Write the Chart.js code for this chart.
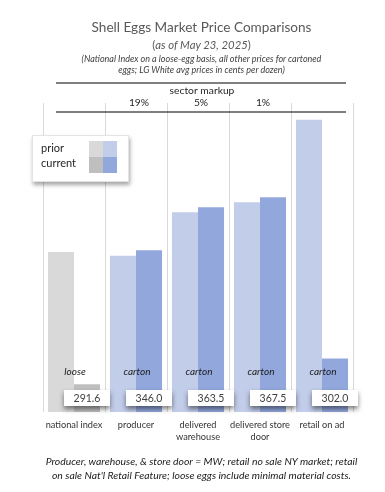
<!DOCTYPE html>
<html>
<head>
<meta charset="utf-8">
<script src="https://cdn.jsdelivr.net/npm/chart.js@4/dist/chart.umd.min.js"></script>
<style>
  body { margin: 0; background: #fff; }
  #wrap { position: relative; width: 385px; height: 492px; overflow: hidden; font-family: Lato, "Open Sans", sans-serif; }
  #c { position: absolute; left: 0; top: 0; }
  .txt { position: absolute; left: 18px; width: 367px; text-align: center; white-space: nowrap; }
  #title { top: 19px; font-size: 13.6px; color: #595959; }
  #sub { top: 38px; font-size: 11.3px; color: #595959; }
  #note { top: 53px; font-size: 9px; color: #404040; font-style: italic; line-height: 11px; }
  #foot { top: 454px; font-size: 10.4px; color: #1a1a1a; font-style: italic; line-height: 14px; }
  #legend { position: absolute; left: 32px; top: 135px; width: 95px; height: 45px; background: #fff;
            border: 1px solid #e4e4e4; box-shadow: 1px 3px 4px rgba(0,0,0,0.35); font-size: 11px; color: #262626; }
  #legend .lab { position: absolute; left: 8px; }
  #legend .sw { position: absolute; width: 14px; height: 16px; }
</style>
</head>
<body>
<div id="wrap">
  <canvas id="c" width="385" height="492"></canvas>
  <div class="txt" id="title">Shell Eggs Market Price Comparisons</div>
  <div class="txt" id="sub">(<i>as of May 23, 2025</i>)</div>
  <div class="txt" id="note">(National Index on a loose-egg basis, all other prices for cartoned<br>eggs; LG White avg prices in cents per dozen)</div>
  <div id="legend">
    <div class="lab" style="top:5px">prior</div>
    <div class="lab" style="top:20px">current</div>
    <div class="sw" style="left:56px;top:5px;background:#d9d9d9"></div>
    <div class="sw" style="left:70px;top:5px;background:#c2cdea"></div>
    <div class="sw" style="left:56px;top:21px;background:#bfbfbf"></div>
    <div class="sw" style="left:70px;top:21px;background:#92a7dc"></div>
  </div>
  <div class="txt" id="foot">Producer, warehouse, &amp; store door = MW; retail no sale NY market; retail<br>on sale Nat'l Retail Feature; loose eggs include minimal material costs.</div>
</div>
<script>
// data (cents per dozen)
const categories = ['national index', 'producer', ['delivered', 'warehouse'], ['delivered store', 'door'], 'retail on ad'];
const priorValues = [345.3, 343.8, 361.4, 365.5, 399.0];
const currentValues = [291.6, 346.0, 363.5, 367.5, 302.0];
const markupLabels = ['', '19%', '5%', '1%', ''];
const packLabels = ['loose', 'carton', 'carton', 'carton', 'carton'];

const priorColors = ['#d9d9d9', '#c2cdea', '#c2cdea', '#c2cdea', '#c2cdea'];
const currentColors = ['#bfbfbf', '#92a7dc', '#92a7dc', '#92a7dc', '#92a7dc'];

// labels, value boxes and the markup band
const extras = {
    id: 'extras',
    afterDatasetsDraw(chart) {
        const ctx = chart.ctx;
        const x = chart.scales.x;
        const cur = chart.getDatasetMeta(1).data;
        ctx.save();

        // markup band
        ctx.strokeStyle = '#000';
        ctx.lineWidth = 1.2;
        ctx.beginPath();
        ctx.moveTo(56, 83); ctx.lineTo(346, 83);
        ctx.moveTo(56, 112); ctx.lineTo(346, 112);
        ctx.stroke();
        ctx.fillStyle = '#262626';
        ctx.textAlign = 'center';
        ctx.textBaseline = 'middle';
        ctx.font = '10.3px Lato';
        ctx.fillText('sector markup', 202, 91);
        markupLabels.forEach((m, i) => {
            if (m) ctx.fillText(m, x.getPixelForValue(i) + 3, 103);
        });

        // loose / carton
        ctx.font = 'italic 10px Lato';
        ctx.fillStyle = '#1a1a1a';
        packLabels.forEach((p, i) => {
            ctx.fillText(p, x.getPixelForValue(i) + 1, 372);
        });

        // value boxes
        ctx.font = '10.5px Lato';
        currentValues.forEach((v, i) => {
            const cx = cur[i].x;
            ctx.save();
            ctx.shadowColor = 'rgba(0,0,0,0.5)';
            ctx.shadowBlur = 5;
            ctx.shadowOffsetY = 3;
            ctx.fillStyle = '#fff';
            ctx.fillRect(cx - 23, 390, 46, 16);
            ctx.restore();
            ctx.fillStyle = '#404040';
            ctx.fillText(v.toFixed(1), cx, 398.5);
        });
        ctx.restore();
    }
};

new Chart(document.getElementById('c'), {
    type: 'bar',
    data: {
        labels: categories,
        datasets: [
            { label: 'prior', data: priorValues, backgroundColor: priorColors },
            { label: 'current', data: currentValues, backgroundColor: currentColors }
        ]
    },
    options: {
        responsive: false,
        animation: false,
        devicePixelRatio: 1,
        layout: { padding: { left: 43, right: 32, top: 103, bottom: 0 } },
        categoryPercentage: 0.84,
        barPercentage: 1.0,
        plugins: { legend: { display: false }, tooltip: { enabled: false } },
        scales: {
            y: { display: false, min: 280.3, max: 405.8 },
            x: {
                afterFit: (s) => { s.height = 80; },
                grid: { offset: true, color: '#d9d9d9', drawTicks: false },
                border: { display: false },
                ticks: { color: '#333', padding: 8, font: { family: 'Lato', size: 9.2 }, maxRotation: 0, autoSkip: false }
            }
        }
    },
    plugins: [extras]
});
</script>
</body>
</html>
